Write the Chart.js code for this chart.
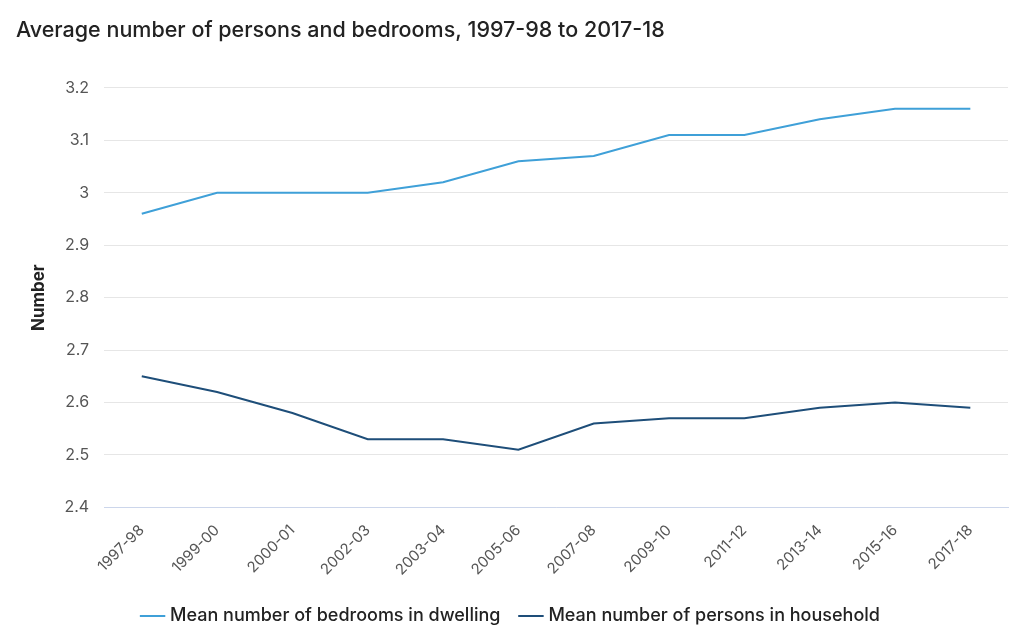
<!DOCTYPE html>
<html>
<head>
<meta charset="utf-8">
<script src="https://cdn.jsdelivr.net/npm/chart.js@4/dist/chart.umd.min.js"></script>
<style>
 html,body{margin:0;padding:0;background:#fff}
 #wrap{width:1024px;height:637px}
</style>
</head>
<body>
<div id="wrap"><canvas id="chart"></canvas></div>
<script>
/* ===== DATA ===== */
const years=["1997-98","1999-00","2000-01","2002-03","2003-04","2005-06","2007-08","2009-10","2011-12","2013-14","2015-16","2017-18"]
const bedrooms=[2.96,3.00,3.00,3.00,3.02,3.06,3.07,3.11,3.11,3.14,3.16,3.16]
const persons=[2.65,2.62,2.58,2.53,2.53,2.51,2.56,2.57,2.57,2.59,2.60,2.59]
const yTicks=[2.4,2.5,2.6,2.7,2.8,2.9,3.0,3.1,3.2]

/* ===== CHART ===== */
const FONT="Inter, 'Open Sans', sans-serif"
const ctx=document.getElementById("chart")

new Chart(ctx,{
 type:"line",
 data:{
  labels:years,
  datasets:[
   {label:"Mean number of bedrooms in dwelling",data:bedrooms,borderColor:"#3fa0d8",backgroundColor:"#3fa0d8",borderWidth:2,pointRadius:0,tension:0},
   {label:"Mean number of persons in household",data:persons,borderColor:"#1e4e79",backgroundColor:"#1e4e79",borderWidth:2,pointRadius:0,tension:0}
  ]
 },
 options:{
  responsive:true,
  maintainAspectRatio:false,
  animation:false,
  layout:{padding:{left:16,right:16,top:4,bottom:2}},
  plugins:{
   title:{display:true,text:"Average number of persons and bedrooms, 1997-98 to 2017-18",align:"start",color:"#222",
    font:{family:FONT,size:21.5,weight:"500"},padding:{top:14,bottom:44}},
   legend:{position:"bottom",
    labels:{usePointStyle:true,pointStyle:"line",boxWidth:17,color:"#222",padding:22,
     font:{family:FONT,size:18,weight:"500"}}},
   tooltip:{enabled:false}
  },
  scales:{
   x:{offset:true,
    grid:{display:false},
    border:{display:true,color:"#ccd6eb",width:1},
    ticks:{color:"#555",font:{family:FONT,size:15},maxRotation:45,minRotation:45,padding:6}
   },
   y:{min:2.4,max:3.2,
    afterBuildTicks:s=>{s.ticks=yTicks.map(v=>({value:v}))},
    grid:{color:"#e6e6e6",drawTicks:false},
    border:{display:false},
    title:{display:true,text:"Number",color:"#222",font:{family:FONT,size:17,weight:"bold"},padding:{top:13,bottom:0}},
    ticks:{color:"#555",font:{family:FONT,size:16},padding:15,callback:v=>String(+v.toFixed(1))}
   }
  }
 }
})
</script>
</body>
</html>
